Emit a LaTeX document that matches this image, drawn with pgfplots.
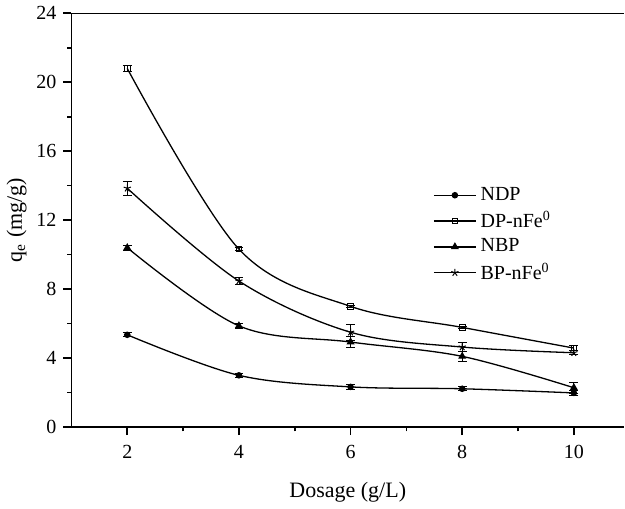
\documentclass[border=0pt]{standalone}
\usepackage{pgfplots}
\pgfplotsset{compat=1.18}
\usepackage{fontspec}
\setmainfont{Liberation Serif}

\begin{document}
\begin{tikzpicture}
\begin{axis}[
  scale only axis,
  width=276.5pt, height=207pt,
  xmin=1, xmax=10.9,
  ymin=0, ymax=24,
  axis y line*=left,
  axis x line*=bottom,
  xtick={2,4,6,8,10},
  ytick={0,4,8,12,16,20,24},
  minor x tick num=1,
  minor y tick num=1,
  tick align=outside,
  major tick length=4pt,
  minor tick length=2.2pt,
  tick style={black, line width=0.8pt},
  axis line style={line width=0.9pt, -},
  /pgf/number format/assume math mode=true,
  ticklabel style={font=\fontsize{10}{12}\selectfont},
  xticklabel style={yshift=-1.5pt},
  xlabel={Dosage (g/L)},
  ylabel={q\textsubscript{e} (mg/g)},
  label style={font=\fontsize{11}{13}\selectfont},
  xlabel style={yshift=-5pt},
  ylabel style={yshift=-2pt},
  legend style={at={(0.643,0.6)}, anchor=north west, draw=none, fill=none,
    font=\fontsize{10}{12}\selectfont, row sep=0pt},
  legend cell align=left,
  legend image code/.code={
    \draw[mark repeat=2, mark phase=2] plot coordinates {(0cm,0cm) (0.37cm,0cm) (0.74cm,0cm)};
  },
  every axis plot/.append style={black, line width=0.65pt, smooth, tension=0.55,
    error bars/y dir=both, error bars/y explicit,
    error bars/error bar style={line width=0.4pt, black},
    error bars/error mark options={rotate=90, mark size=2.2pt, line width=0.4pt}},
]
\draw[line width=0.9pt] (rel axis cs:0,1) -- (rel axis cs:1,1);
\addplot[mark=*, mark size=1.3pt] coordinates {
  (2,5.35) +- (0,0.12)
  (4,3.0) +- (0,0.1)
  (6,2.33) +- (0,0.12)
  (8,2.22) +- (0,0.12)
  (10,1.98) +- (0,0.15)
};
\addplot[mark=square, mark size=1.4pt, mark options={fill=white, line width=0.5pt}] coordinates {
  (2,20.8) +- (0,0.15)
  (4,10.32) +- (0,0.1)
  (6,7.0) +- (0,0.08)
  (8,5.78) +- (0,0.08)
  (10,4.58) +- (0,0.15)
};
\addplot[mark=triangle*, mark size=1.7pt] coordinates {
  (2,10.4) +- (0,0.15)
  (4,5.87) +- (0,0.15)
  (6,4.93) +- (0,0.3)
  (8,4.1) +- (0,0.3)
  (10,2.28) +- (0,0.3)
};
\addplot[mark=star, mark size=1.9pt, mark options={line width=0.5pt}] coordinates {
  (2,13.85) +- (0,0.4)
  (4,8.47) +- (0,0.2)
  (6,5.5) +- (0,0.45)
  (8,4.64) +- (0,0.25)
  (10,4.31) +- (0,0.12)
};
\legend{NDP, DP-nFe\textsuperscript{0}, NBP, BP-nFe\textsuperscript{0}}
\end{axis}
\end{tikzpicture}
\end{document}
